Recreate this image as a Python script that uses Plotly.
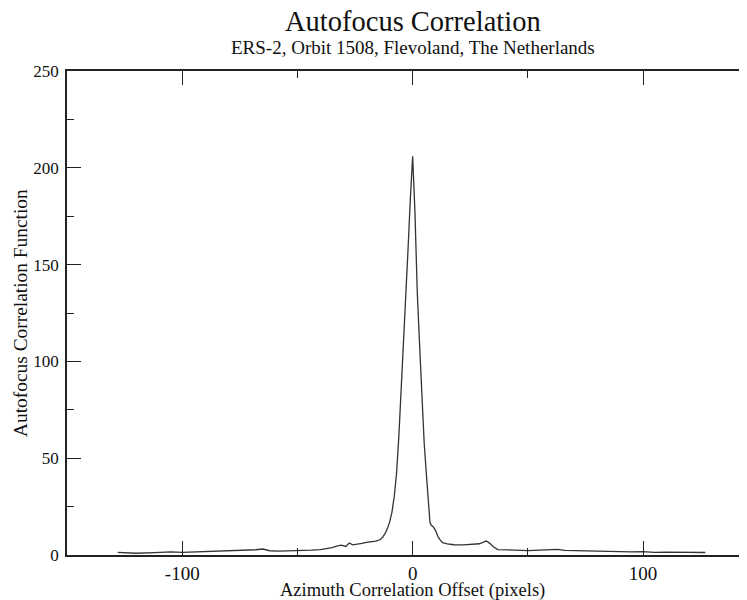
import plotly.graph_objects as go

# Azimuth correlation offset (pixels) and autofocus correlation function values
offset = [-128, -120, -112, -105, -100, -95, -88, -82, -78, -72, -68, -65, -62, -58, -52, -48,
          -44, -40, -37, -35, -33, -31, -29, -27.5, -26, -24, -22, -20, -18, -16, -14, -13,
          -12, -11, -10, -9, -8, -7, -6, -5, -4, -3, -2, -1, 0, 1, 2, 3, 4, 5, 6, 7, 7.5, 8,
          9, 10, 11, 12, 13, 15, 18, 22, 26, 29, 31, 32, 33.5, 35, 37, 40, 45, 50, 55, 60,
          63, 66, 70, 75, 80, 85, 90, 95, 100, 105, 110, 115, 120, 127]
acf = [1.4, 0.9, 1.2, 1.6, 1.4, 1.6, 1.7, 1.9, 2.2, 2.4, 2.7, 3.1, 2.2, 2.0, 2.1, 2.3,
       2.5, 2.8, 3.2, 3.8, 4.6, 5.1, 4.4, 6.2, 5.2, 5.5, 6.0, 6.5, 6.8, 7.2, 8.0, 9.2,
       11.0, 13.5, 17, 22, 30, 42, 61, 84, 106, 131, 158, 184, 206, 177, 136, 109, 83, 58, 41, 25, 17, 15.5,
       14.5, 12.5, 9.5, 7.7, 6.4, 5.8, 5.3, 5.2, 5.4, 5.8, 6.8, 7.2, 6.0, 4.3, 2.8, 2.6, 2.5, 2.3, 2.5, 2.6,
       2.9, 2.4, 2.2, 2.0, 2.0, 1.9, 1.7, 1.6, 1.7, 1.4, 1.5, 1.4, 1.3, 1.3]

x_tickvals = [-100, 0, 100]
x_ticktext = ["-100", "0", "100"]
y_tickvals = [0, 50, 100, 150, 200, 250]
y_ticktext = ["0", "50", "100", "150", "200", "250"]

title_text = "Autofocus Correlation"
subtitle_text = "ERS-2, Orbit 1508, Flevoland, The Netherlands"
x_title = "Azimuth Correlation Offset (pixels)"
y_title = "Autofocus Correlation Function"

FONT = "Liberation Serif"
AX = "#222222"
TXT = "#111111"

fig = go.Figure()
fig.add_trace(go.Scatter(x=offset, y=acf, mode="lines",
                         line=dict(color="#333333", width=1.3), showlegend=False))

fig.update_layout(
    width=739, height=592,
    margin=dict(l=59, r=0, t=63, b=45),
    paper_bgcolor="white", plot_bgcolor="white",
    font=dict(family=FONT, color=TXT, size=19),
    xaxis=dict(range=[-150, 145.1], showgrid=False, zeroline=False,
               showline=True, linecolor=AX, linewidth=1.5, mirror="ticks",
               ticks="inside", ticklen=14, tickwidth=1.2, tickcolor=AX,
               tickmode="array", tickvals=x_tickvals, ticktext=x_ticktext,
               tickfont=dict(size=19, family=FONT, color=TXT),
               minor=dict(ticks="inside", ticklen=7, tickwidth=1.2, tickcolor=AX,
                          tickmode="linear", tick0=0, dtick=50, showgrid=False)),
    yaxis=dict(range=[0, 250], showgrid=False, zeroline=False,
               showline=True, linecolor=AX, linewidth=1.5,
               ticks="inside", ticklen=14, tickwidth=1.2, tickcolor=AX,
               tickmode="array", tickvals=y_tickvals, ticktext=y_ticktext,
               tickfont=dict(size=17, family=FONT, color=TXT),
               ticklabelstandoff=3,
               minor=dict(ticks="inside", ticklen=7, tickwidth=1.2, tickcolor=AX,
                          tickmode="linear", tick0=0, dtick=25, showgrid=False)),
    yaxis2=dict(range=[0, 250], overlaying="y", side="right", anchor="x",
                showgrid=False, zeroline=False, showline=False, showticklabels=False,
                ticks="inside", ticklen=4, tickwidth=1.5, tickcolor=AX,
                tickmode="array", tickvals=y_tickvals[1:-1]),
    annotations=[
        dict(text=title_text, x=0, xref="x", y=1, yref="paper", xanchor="center", yanchor="middle",
             yshift=50, showarrow=False, font=dict(size=28.5, family=FONT, color=TXT)),
        dict(text=subtitle_text, x=0, xref="x", y=1, yref="paper", xanchor="center", yanchor="middle",
             yshift=24, showarrow=False, font=dict(size=19, family=FONT, color=TXT)),
        dict(text=x_title, x=0, xref="x", y=0, yref="paper", xanchor="center", yanchor="middle",
             yshift=-35, showarrow=False, font=dict(size=18.5, family=FONT, color=TXT)),
        dict(text=y_title, x=0, xref="paper", y=0.5, yref="paper", xanchor="center", yanchor="middle",
             xshift=-47, textangle=-90, showarrow=False, font=dict(size=19.4, family=FONT, color=TXT)),
    ],
)

fig.write_html("out.html")
